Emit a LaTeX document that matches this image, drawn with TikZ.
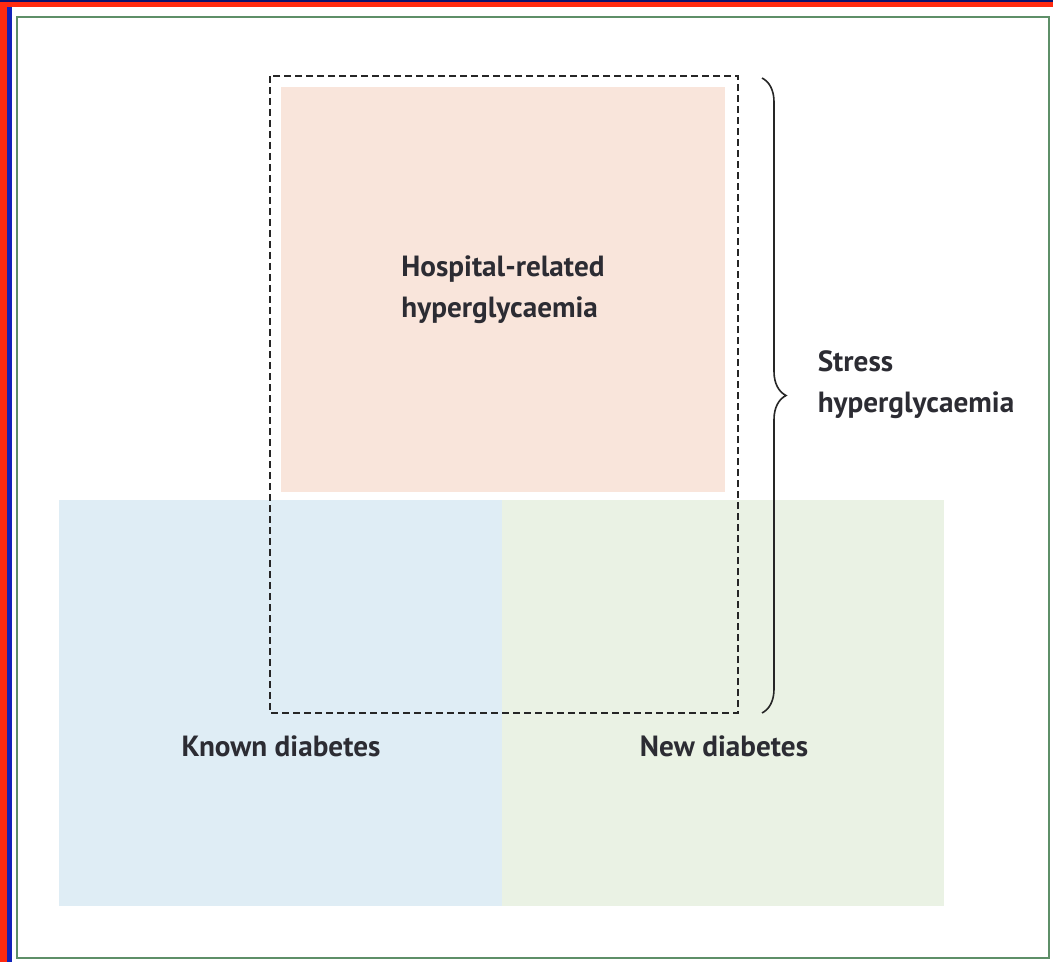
\documentclass[tikz,border=0pt]{standalone}
\usepackage{fontspec}
\setmainfont{PT Sans}
\usepackage{xcolor}
\usetikzlibrary{positioning,calc,decorations.pathreplacing}

\definecolor{peach}{HTML}{F9E5DB}
\definecolor{knownblue}{HTML}{DFEDF5}
\definecolor{newgreen}{HTML}{EAF2E4}
\definecolor{framegreen}{HTML}{5E8F68}
\definecolor{framered}{HTML}{FF2A10}
\definecolor{framenavy}{HTML}{1222B8}
\definecolor{textgray}{HTML}{2C2C33}

\begin{document}
\begin{tikzpicture}[x=0.5pt,y=-0.5pt,
    lbl/.style={font=\bfseries\fontsize{14.6}{20.5}\selectfont, text=textgray, align=left, inner sep=0pt}]
    \useasboundingbox (0,0) rectangle (1053,962);
    % outer frame
    \fill[white] (0,0) rectangle (1053,962);
    \fill[framered] (0,0) rectangle (7,962);
    \fill[framered] (0,0) rectangle (1053,7);
    \fill[framenavy] (7,7) rectangle (12,962);
    \fill[framenavy!60!black] (0,0) rectangle (1053,2);
    \draw[framegreen, line width=1.2pt] (17,17) rectangle (1049,958);
    % coloured regions
    \fill[peach] (281,87) rectangle (725,492);
    \fill[knownblue] (59,500) rectangle (502,906);
    \fill[newgreen] (502,500) rectangle (944,906);
    % dashed region
    \coordinate (dtl) at (270,76);
    \coordinate (dbr) at (738,713);
    \draw[black!85, line width=0.8pt, dash pattern=on 3.5pt off 2pt] (dtl) rectangle (dbr);
    % brace
    \coordinate (btop) at (762,78);
    \coordinate (bbot) at (762,713);
    \draw[black!85, line width=0.8pt, decorate, decoration={brace, amplitude=12pt}] (btop) -- (bbot);
    % labels
    \node[lbl] (hosp) at (503,290) {Hospital-related\\hyperglycaemia};
    \node[lbl] (stress) at (916,385) {Stress\\hyperglycaemia};
    \node[lbl] (known) at (281,746) {Known diabetes};
    \node[lbl] (new) at (724,746) {New diabetes};
\end{tikzpicture}
\end{document}
